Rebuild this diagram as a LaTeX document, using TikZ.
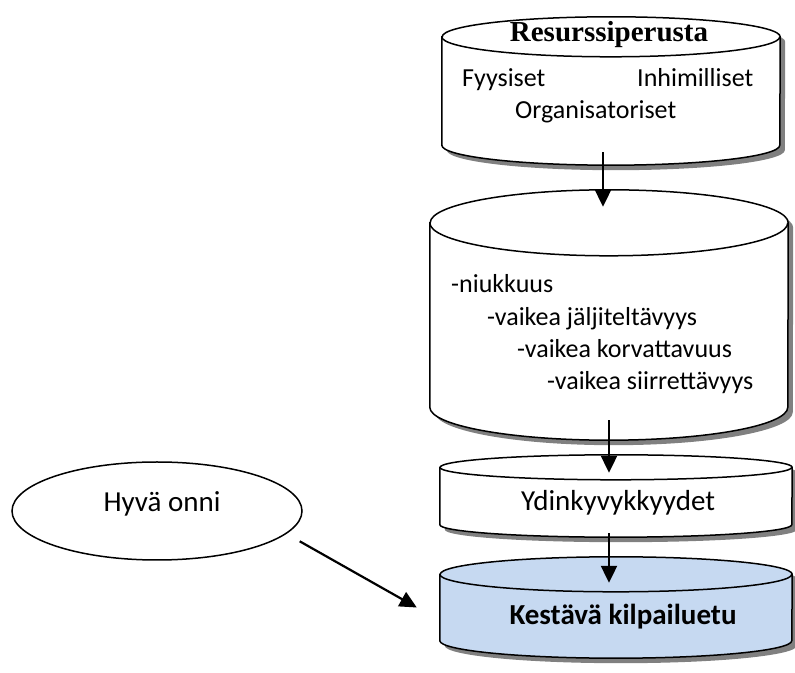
\documentclass[tikz,border=0pt]{standalone}
\usepackage{fontspec}
\setmainfont{Carlito}
\newfontfamily\serifhead{Liberation Serif}
\usepackage{tikz}
\usetikzlibrary{arrows.meta, positioning, shapes.geometric}

\definecolor{paleblue}{HTML}{C6D9F1}
\definecolor{shadowgrey}{HTML}{808080}

% outline of an upright drum around a named box: node, half width, end radius, x offset, y offset
\newcommand{\drumpath}[5]{%
  ([xshift=#4, yshift=#5-#3]#1.north west) -- ([xshift=#4, yshift=#5+#3]#1.south west)
  arc[start angle=180, end angle=360, x radius=#2, y radius=#3]
  -- ([xshift=#4, yshift=#5-#3]#1.north east)
  arc[start angle=0, end angle=180, x radius=#2, y radius=#3] -- cycle
}
% shadow, body and front rim of the drum
\newcommand{\drawdrum}[4]{%
  \fill[shadowgrey] \drumpath{#1}{#2}{#3}{5pt}{-5pt};
  \filldraw[rim, fill=#4] \drumpath{#1}{#2}{#3}{0pt}{0pt};
  \draw[rim] ([yshift=-#3]#1.north west) arc[start angle=180, end angle=360, x radius=#2, y radius=#3];
}

\tikzset{
  box/.style={rectangle, inner sep=0pt},
  rim/.style={line width=1.5pt},
  txt/.style={inner sep=0pt, anchor=base west, font=\fontsize{26}{30}\selectfont},
  bigtxt/.style={inner sep=0pt, anchor=base, font=\fontsize{29}{32}\selectfont},
  flow/.style={-{Triangle[length=17pt, width=16pt]}, line width=2.2pt},
}

\begin{document}
\begin{tikzpicture}[x=1pt, y=1pt]
\useasboundingbox (0,0) rectangle (795,672);

% the four stacked drums
\node (base) [box, minimum width=338pt, minimum height=148pt] at (611,581) {};
\node (traits) [box, minimum width=358pt, minimum height=250pt] at (609,357) {};
\node (core) [box, minimum width=352pt, minimum height=82pt] at (616,176) {};
\node (goal) [box, minimum width=352pt, minimum height=101pt] at (616,64.5) {};

\drawdrum{base}{169pt}{20pt}{white}
\drawdrum{traits}{179pt}{33pt}{white}
\drawdrum{core}{176pt}{12.5pt}{white}
\drawdrum{goal}{176pt}{17.5pt}{paleblue}

\node (luck) [ellipse, draw, rim, minimum width=290pt, minimum height=98pt,
  text height=18pt, text depth=16pt, font=\fontsize{29}{32}\selectfont] at (157,161) {\hspace{10pt}Hyvä onni};

% texts
\node (title) [bigtxt, font=\serifhead\bfseries\fontsize{29}{32}\selectfont] at (609,630) {Resurssiperusta};
\node (phys) [txt] at (462,585) {Fyysiset};
\node (human) [txt] at (637,585) {Inhimilliset};
\node (org) [txt] at (515,553) {Organisatoriset};

\node (t1) [txt] at (451,379) {-niukkuus};
\node (t2) [txt] at (487,346) {-vaikea jäljiteltävyys};
\node (t3) [txt] at (517,314) {-vaikea korvattavuus};
\node (t4) [txt] at (547,282) {-vaikea siirrettävyys};

\node (corelabel) [bigtxt] at (618,161) {Ydinkyvykkyydet};
\node (goallabel) [bigtxt, font=\bfseries\fontsize{29}{32}\selectfont] at (623,48) {Kestävä kilpailuetu};

% arrows
\draw[flow] ([xshift=-8pt, yshift=13pt]base.south) -- ([xshift=-6pt, yshift=-17pt]traits.north);
\draw[flow] ([yshift=20pt]traits.south) -- ([xshift=-7pt, yshift=-18pt]core.north);
\draw[flow] ([xshift=-7pt, yshift=4pt]core.south) -- ([xshift=-7pt, yshift=-26pt]goal.north);
\draw[flow] ([xshift=19pt, yshift=-4pt]luck.-12) -- ([xshift=-23pt]goal.west);
\end{tikzpicture}
\end{document}
